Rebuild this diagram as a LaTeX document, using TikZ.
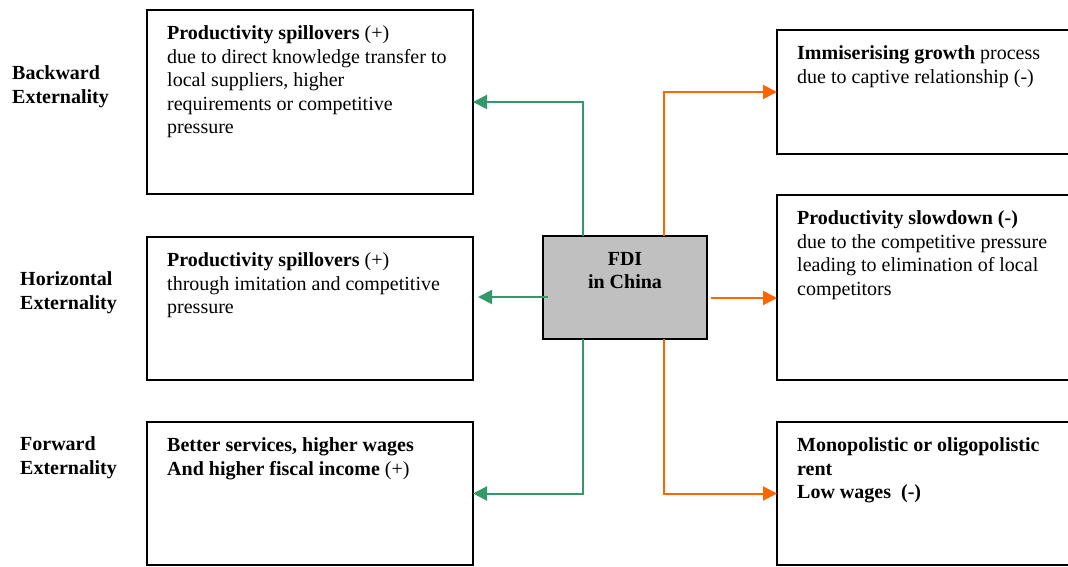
\documentclass[tikz,border=0pt]{standalone}
\usepackage{fontspec}
\setmainfont{Liberation Serif}
\usetikzlibrary{arrows.meta}
\definecolor{fdigreen}{RGB}{51,153,102}
\definecolor{fdiorange}{RGB}{255,102,0}
\definecolor{fdigray}{RGB}{192,192,192}
\begin{document}
\begin{tikzpicture}[x=1pt,y=-1pt,
  box/.style={draw=black, line width=2pt, rectangle, inner sep=0pt, outer sep=0pt, anchor=north west},
  txt/.style={anchor=north west, inner sep=0pt, align=left, font=\fontsize{20}{23.5}\selectfont},
  lbl/.style={anchor=north west, inner sep=0pt, align=left, font=\fontsize{20}{23.5}\selectfont\bfseries},
  gline/.style={draw=fdigreen, line width=2pt, -{Triangle[length=14pt,width=14pt]}},
  oline/.style={draw=fdiorange, line width=2pt, -{Triangle[length=14pt,width=14pt]}}]
\useasboundingbox (0,0) rectangle (1068,567);
\clip (0,0) rectangle (1068,567);
% left boxes
\node[box, minimum width=326pt, minimum height=184pt] (L1) at (147,10) {};
\node[box, minimum width=326pt, minimum height=143pt] (L2) at (147,237) {};
\node[box, minimum width=326pt, minimum height=143pt] (L3) at (147,422) {};
% right boxes
\node[box, minimum width=320pt, minimum height=124pt] (R1) at (777,30) {};
\node[box, minimum width=320pt, minimum height=185pt] (R2) at (777,195) {};
\node[box, minimum width=320pt, minimum height=143pt] (R3) at (777,422) {};
% centre
\node[box, fill=fdigray, minimum width=164pt, minimum height=103pt] (C) at (543,236) {};
\node[txt, anchor=north, align=center, font=\fontsize{20}{23.5}\selectfont\bfseries] (Ct) at ([yshift=-16pt]C.north) {FDI\\in China};
% texts
\node[txt] (L1t) at ([shift={(20pt,-15.5pt)}]L1.north west) {\textbf{Productivity spillovers} (+)\\due to direct knowledge transfer to\\local suppliers, higher\\requirements or competitive\\pressure};
\node[txt] (L2t) at ([shift={(20pt,-15.5pt)}]L2.north west) {\textbf{Productivity spillovers} (+)\\through imitation and competitive\\pressure};
\node[txt] (L3t) at ([shift={(20pt,-15.5pt)}]L3.north west) {\textbf{Better services, higher wages}\\\textbf{And higher fiscal income} (+)};
\node[txt] (R1t) at ([shift={(20pt,-15.5pt)}]R1.north west) {\textbf{Immiserising growth} process\\due to captive relationship (-)};
\node[txt] (R2t) at ([shift={(20pt,-15.5pt)}]R2.north west) {\textbf{Productivity slowdown (-)}\\due to the competitive pressure\\leading to elimination of local\\competitors};
\node[txt] (R3t) at ([shift={(20pt,-15.5pt)}]R3.north west) {\textbf{Monopolistic or oligopolistic}\\\textbf{rent}\\\textbf{Low wages\ \ (-)}};
% side labels
\node[lbl] (lb1) at (12,65.5) {Backward\\Externality};
\node[lbl] (lb2) at (20,271.5) {Horizontal\\Externality};
\node[lbl] (lb3) at (20,436.5) {Forward\\Externality};
% connectors
\draw[gline] ([xshift=-42pt]C.north) |- (L1.east);
\draw[gline] ([xshift=-42pt]C.south) |- (L3.east);
\coordinate (gm) at ([shift={(5pt,-9.5pt)}]C.west);
\draw[gline, shorten >=5pt] (gm) -- (gm -| L2.east);
\draw[oline] ([xshift=39pt]C.north) |- (R1.west);
\draw[oline] ([xshift=39pt]C.south) |- (R3.west);
\coordinate (om) at ([shift={(4pt,-10.5pt)}]C.east);
\draw[oline] (om) -- (om -| R2.west);
\end{tikzpicture}
\end{document}
